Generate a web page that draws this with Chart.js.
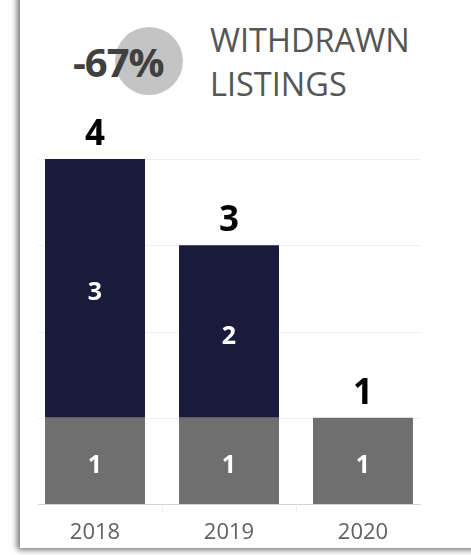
<!DOCTYPE html>
<html>
<head>
<meta charset="utf-8">
<script src="https://cdn.jsdelivr.net/npm/chart.js@4/dist/chart.umd.min.js"></script>
<style>
  html, body { margin: 0; padding: 0; background: #ffffff; width: 471px; height: 555px; overflow: hidden; }
  #card { position: absolute; left: 20px; top: -20px; width: 520px; height: 568px; background: #fff;
          box-shadow: -3px 2px 6px rgba(0,0,0,0.55); }
  #circle { position: absolute; left: 115px; top: 27px; width: 68px; height: 68px; border-radius: 50%; background: #c4c4c4; }
  .t { position: absolute; font-family: "Open Sans", sans-serif; white-space: nowrap; line-height: 1; }
  #pct { left: 73px; top: 42px; font-size: 40px; font-weight: 700; color: #404040; letter-spacing: -1px; }
  #title1 { left: 210px; top: 24px; font-size: 32.5px; color: #555555; }
  #title2 { left: 210px; top: 68px; font-size: 32.5px; color: #555555; }
  #c { position: absolute; left: 0; top: 0; }
</style>
</head>
<body>
<div id="card"></div>
<div id="circle"></div>
<div class="t" id="pct">-67%</div>
<div class="t" id="title1">WITHDRAWN</div>
<div class="t" id="title2">LISTINGS</div>
<canvas id="c" width="471" height="555"></canvas>
<script>
const categories = ['2018', '2019', '2020'];
const baseValues = [1, 1, 1];
const upperValues = [3, 2, 0];
const yTicks = [0, 1, 2, 3, 4];

const FONT = '"Open Sans", sans-serif';

const customDraw = {
  id: 'customDraw',
  beforeDatasetsDraw(chart) {
    const ctx = chart.ctx;
    const y = chart.scales.y, x = chart.scales.x;
    const left = chart.chartArea.left + 10, right = chart.chartArea.right - 9;
    ctx.save();
    yTicks.forEach(v => {
      if (v === 0) return;
      const py = Math.round(y.getPixelForValue(v)) + 0.5;
      ctx.strokeStyle = '#f0f0f0';
      ctx.lineWidth = 1;
      ctx.beginPath(); ctx.moveTo(left, py); ctx.lineTo(right, py); ctx.stroke();
    });
    const by = Math.round(y.getPixelForValue(0)) + 0.5;
    ctx.strokeStyle = '#d4d4d4';
    ctx.beginPath(); ctx.moveTo(left, by); ctx.lineTo(right, by); ctx.stroke();
    ctx.strokeStyle = '#ececec';
    for (let i = 1; i < categories.length; i++) {
      const px = Math.round((x.getPixelForValue(i - 1) + x.getPixelForValue(i)) / 2) + 0.5;
      ctx.beginPath(); ctx.moveTo(px, by); ctx.lineTo(px, by + 8); ctx.stroke();
    }
    ctx.restore();
  },
  afterDatasetsDraw(chart) {
    const ctx = chart.ctx;
    ctx.save();
    ctx.textAlign = 'center';
    ctx.textBaseline = 'alphabetic';
    const tops = {};
    chart.data.datasets.forEach((ds, di) => {
      const meta = chart.getDatasetMeta(di);
      meta.data.forEach((bar, i) => {
        const v = ds.data[i];
        if (!v) return;
        ctx.fillStyle = '#ffffff';
        ctx.font = '700 25px ' + FONT;
        ctx.fillText(String(v), bar.x, (bar.y + bar.base) / 2 + 12);
        if (tops[i] === undefined || bar.y < tops[i].y) tops[i] = { x: bar.x, y: bar.y };
      });
    });
    Object.keys(tops).forEach(i => {
      const total = baseValues[i] + upperValues[i];
      ctx.fillStyle = '#000000';
      ctx.font = '700 35px ' + FONT;
      ctx.fillText(String(total), tops[i].x, tops[i].y - 14);
    });
    ctx.restore();
  }
};

new Chart(document.getElementById('c'), {
  type: 'bar',
  data: {
    labels: categories,
    datasets: [
      { label: 'base', data: baseValues, backgroundColor: '#6f6f6f', borderWidth: 0 },
      { label: 'upper', data: upperValues, backgroundColor: '#1a1a3d', borderWidth: 0 }
    ]
  },
  options: {
    responsive: false,
    animation: false,
    devicePixelRatio: 1,
    layout: { padding: { left: 28, right: 41, top: 159, bottom: 6 } },
    plugins: { legend: { display: false }, tooltip: { enabled: false } },
    datasets: { bar: { categoryPercentage: 1.0, barPercentage: 0.746 } },
    scales: {
      x: {
        stacked: true,
        grid: { display: false },
        border: { display: false },
        ticks: { color: '#606060', font: { family: FONT, size: 22 }, padding: 8 },
        afterFit(s) { s.height = 45; }
      },
      y: {
        stacked: true,
        display: false,
        min: 0, max: 4,
        grid: { display: false }
      }
    }
  },
  plugins: [customDraw]
});
</script>
</body>
</html>
